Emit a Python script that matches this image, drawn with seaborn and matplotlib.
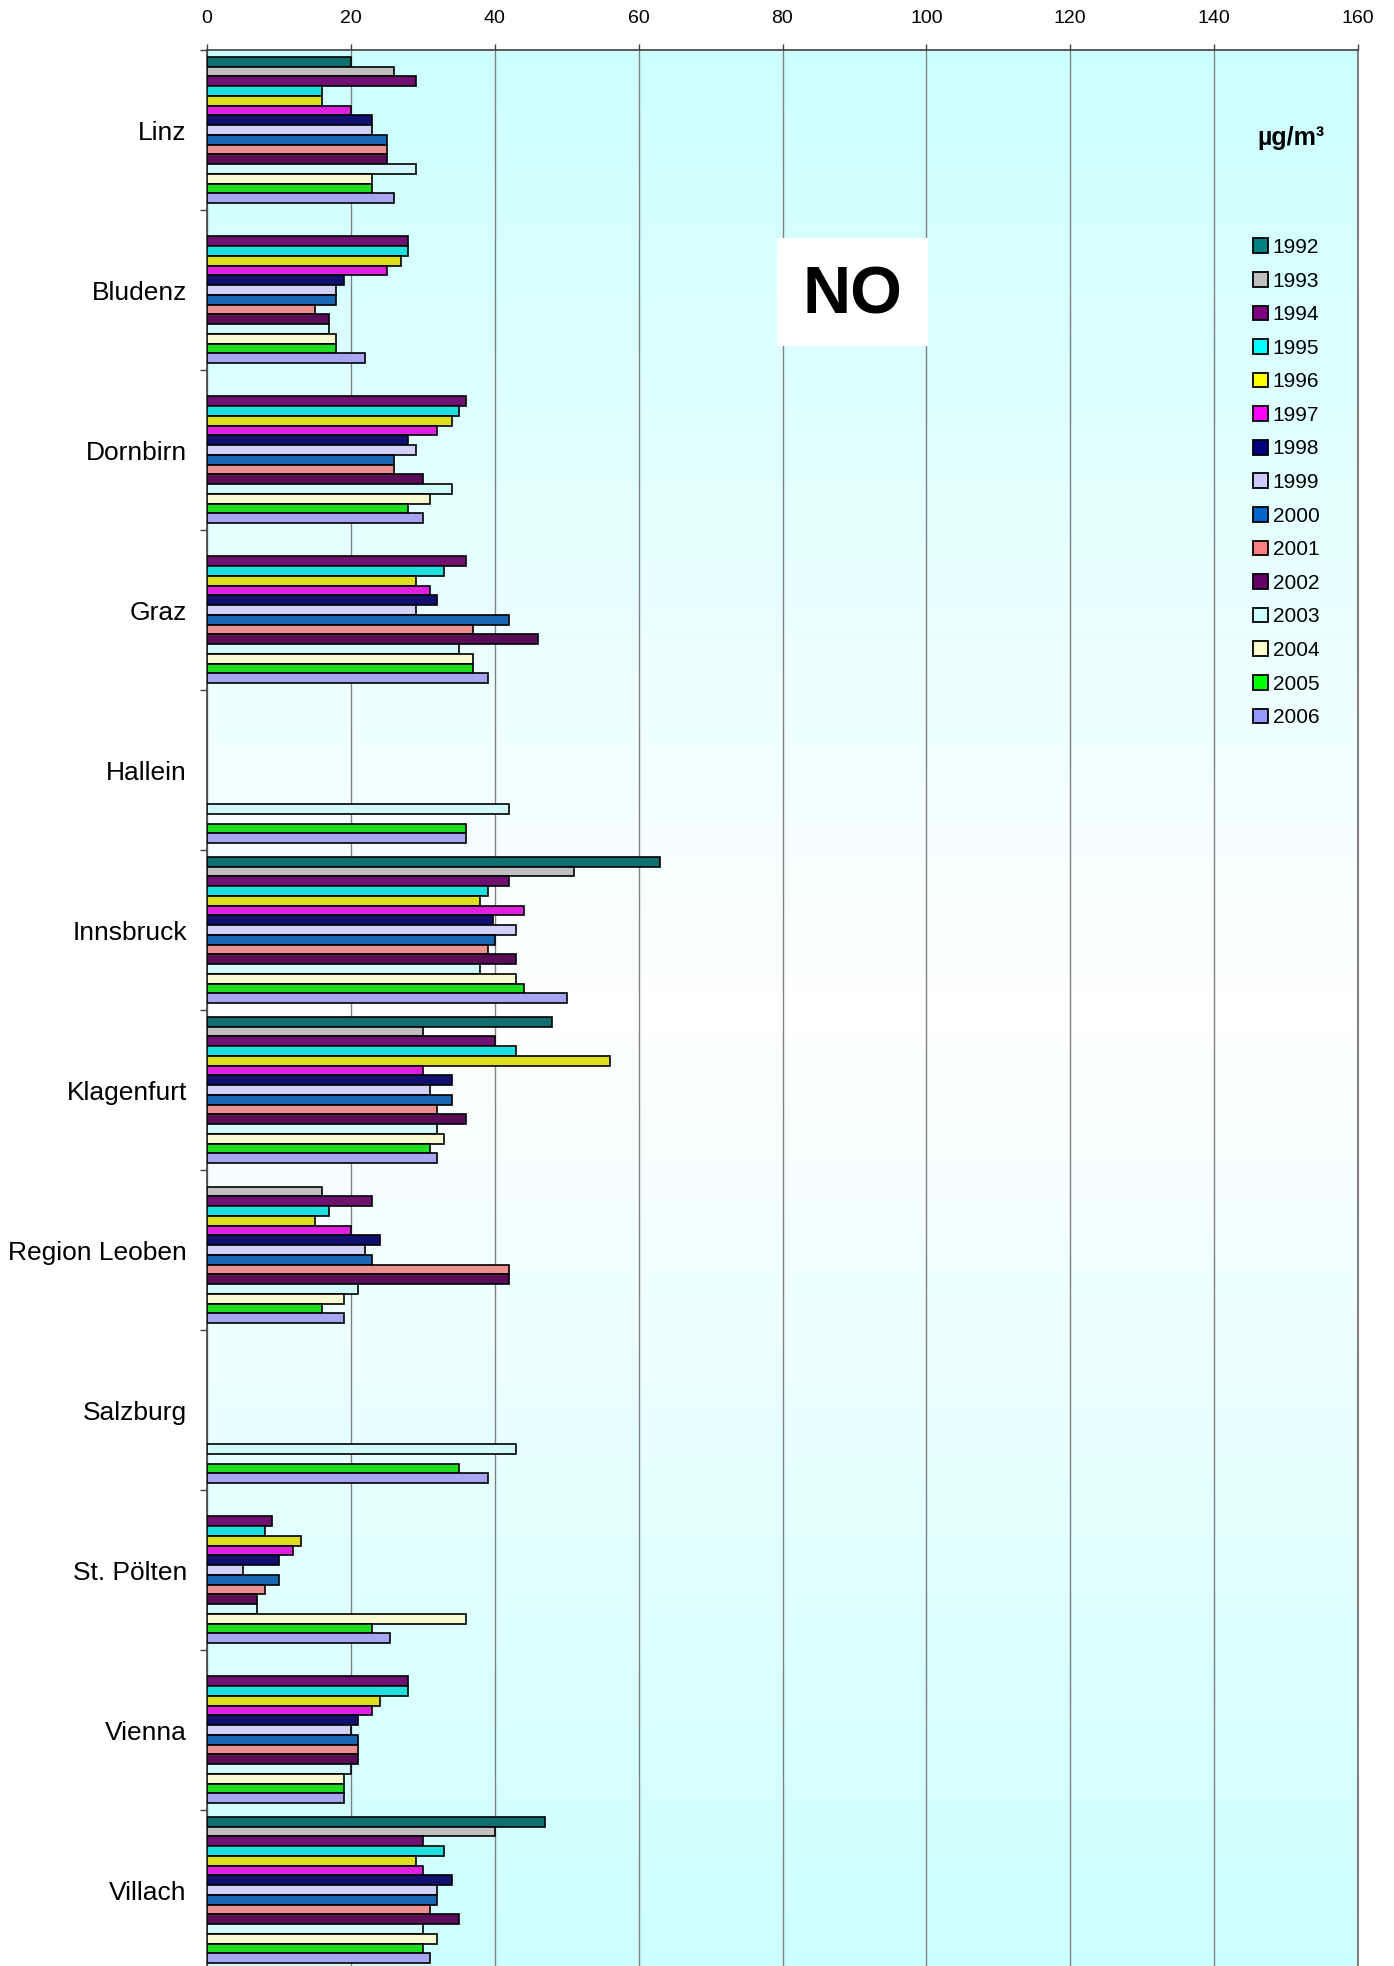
import numpy as np
import pandas as pd
import matplotlib
matplotlib.use("Agg")
import matplotlib.pyplot as plt
from matplotlib.patches import Patch, Rectangle
import seaborn as sns

# Annual mean NO concentrations (µg/m³) by monitoring site, 1992-2006
years = [str(y) for y in range(1992, 2007)]
cities = ["Linz", "Bludenz", "Dornbirn", "Graz", "Hallein", "Innsbruck",
          "Klagenfurt", "Region Leoben", "Salzburg", "St. Pölten", "Vienna", "Villach"]

nan = np.nan
linz = [20, 26, 29, 16, 16, 20, 23, 23, 25, 25, 25, 29, 23, 23, 26]
bludenz = [nan, nan, 28, 28, 27, 25, 19, 18, 18, 15, 17, 17, 18, 18, 22]
dornbirn = [nan, nan, 36, 35, 34, 32, 28, 29, 26, 26, 30, 34, 31, 28, 30]
graz = [nan, nan, 36, 33, 29, 31, 32, 29, 42, 37, 46, 35, 37, 37, 39]
hallein = [nan, nan, nan, nan, nan, nan, nan, nan, nan, nan, nan, 42, nan, 36, 36]
innsbruck = [63, 51, 42, 39, 38, 44, 39.7, 43, 40, 39, 43, 38, 43, 44, 50]
klagenfurt = [48, 30, 40, 43, 56, 30, 34, 31, 34, 32, 36, 32, 33, 31, 32]
leoben = [nan, 16, 23, 17, 15, 20, 24, 22, 23, 42, 42, 21, 19, 16, 19]
salzburg = [nan, nan, nan, nan, nan, nan, nan, nan, nan, nan, nan, 43, nan, 35, 39]
st_poelten = [nan, nan, 9, 8, 13, 12, 10, 5, 10, 8, 7, 7, 36, 23, 25.5]
vienna = [nan, nan, 28, 28, 24, 23, 21, 20, 21, 21, 21, 20, 19, 19, 19]
villach = [47, 40, 30, 33, 29, 30, 34, 32, 32, 31, 35, 30, 32, 30, 31]

series = [linz, bludenz, dornbirn, graz, hallein, innsbruck,
          klagenfurt, leoben, salzburg, st_poelten, vienna, villach]

year_colors = ["#008080", "#C0C0C0", "#800080", "#00FFFF", "#FFFF00",
               "#FF00FF", "#000080", "#CCCCFF", "#0066CC", "#FF8080",
               "#660066", "#CCFFFF", "#FFFFCC", "#00FF00", "#9999FF"]

rows = []
for city, vals in zip(cities, series):
    for yr, v in zip(years, vals):
        if not np.isnan(v):
            rows.append({"city": city, "year": yr, "value": v})
df = pd.DataFrame(rows)

sns.set_style("white")
plt.rcParams["font.family"] = ["Liberation Sans", "DejaVu Sans"]
plt.rcParams["text.color"] = "black"
plt.rcParams["xtick.color"] = "black"
plt.rcParams["ytick.color"] = "black"

W, H = 1394, 1966
fig = plt.figure(figsize=(W / 100, H / 100), dpi=100)

left, right = 207 / W, 1358 / W
top = 1 - 50 / H
bottom = 1 - 1970 / H
rect = [left, bottom, right - left, top - bottom]

# gradient backdrop: light cyan at top and bottom, white in the middle
bg = fig.add_axes(rect, zorder=-1)
t = np.linspace(0, 1, 512)
k = np.abs(2 * t - 1)[:, None]
cyan = np.array([204, 255, 255]) / 255
white = np.array([1.0, 1.0, 1.0])
grad = white[None, :] * (1 - k) + cyan[None, :] * k
bg.imshow(grad[:, None, :], aspect="auto", extent=(0, 1, 0, 1), interpolation="bilinear")
bg.set_axis_off()

ax = fig.add_axes(rect)
ax.set_facecolor("none")

sns.barplot(data=df, y="city", x="value", hue="year", order=cities,
            hue_order=years, palette=year_colors, orient="h", width=0.9125,
            errorbar=None, edgecolor="black", linewidth=1.2, legend=False,
            dodge=True, ax=ax, zorder=3)

ax.set_xlim(0, 160)
ax.set_ylim(len(cities) - 0.5, -0.5)
ax.set_xticks(np.arange(0, 161, 20))
ax.xaxis.tick_top()
ax.tick_params(axis="x", which="major", top=True, bottom=False, labeltop=True,
               labelbottom=False, length=4.5, width=1, color="#404040",
               labelcolor="black", direction="out", pad=12, labelsize=14)
ax.grid(axis="x", color="#808080", linewidth=1.0, zorder=1)
ax.set_axisbelow(True)

ax.set_yticks(np.arange(len(cities)))
ax.set_yticklabels(cities)
ax.set_yticks(np.arange(len(cities) + 1) - 0.5, minor=True)
ax.tick_params(axis="y", which="major", length=0, pad=14.5, labelsize=19,
               labelcolor="black")
ax.tick_params(axis="y", which="minor", length=5, width=1, color="#404040",
               direction="out", left=True)
ax.set_xlabel("")
ax.set_ylabel("")

for side in ["top", "left"]:
    ax.spines[side].set_color("#404040")
    ax.spines[side].set_linewidth(1.2)
ax.spines["right"].set_color("#808080")
ax.spines["right"].set_linewidth(1.5)
ax.spines["bottom"].set_color("#404040")

# legend of years
handles = [Patch(facecolor=c, edgecolor="black", linewidth=1.3) for c in year_colors]
fig.legend(handles, years, loc="upper left", bbox_to_anchor=(1253 / W, 1 - 238 / H),
           frameon=False, fontsize=15, handlelength=0.7, handleheight=0.7,
           handletextpad=0.25, labelspacing=0.70, borderpad=0, borderaxespad=0,
           labelcolor="black")

fig.text(1291 / W, 1 - 138 / H, "µg/m³", ha="center", va="center",
         fontsize=18, fontweight="bold", color="black")

# title block
fig.add_artist(Rectangle((777 / W, 1 - 346 / H), 151 / W, 108 / H,
                         transform=fig.transFigure, facecolor="white",
                         edgecolor="none", zorder=5))
fig.text(852 / W, 1 - 296 / H, "NO", ha="center", va="center",
         fontsize=48, fontweight="bold", color="black", zorder=6)

fig.savefig("out.png", dpi=100)
